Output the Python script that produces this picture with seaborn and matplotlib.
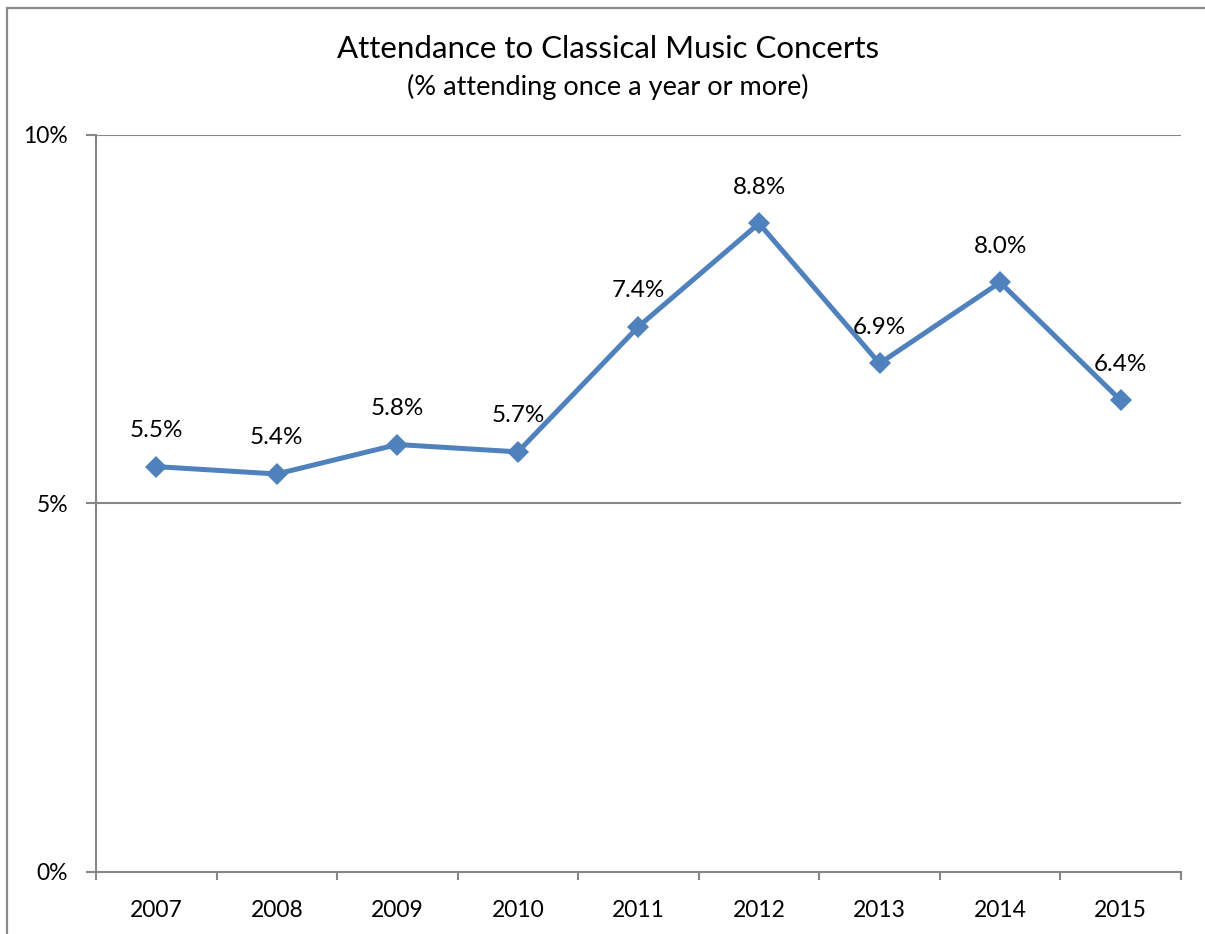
import matplotlib
matplotlib.use("Agg")
import matplotlib.pyplot as plt
import seaborn as sns
import numpy as np
import pandas as pd
from matplotlib.patches import Rectangle
from matplotlib.ticker import FixedLocator, NullFormatter

# Attendance data
years = ["2007", "2008", "2009", "2010", "2011", "2012", "2013", "2014", "2015"]
attendance = [5.5, 5.4, 5.8, 5.7, 7.4, 8.8, 6.9, 8.0, 6.4]
y_ticks = [0, 5, 10]
y_tick_labels = ["0%", "5%", "10%"]

title = "Attendance to Classical Music Concerts"
subtitle = "(% attending once a year or more)"

LINE_BLUE = "#4F81BD"
AXIS_GRAY = "#868686"

sns.set_theme(style="white")
plt.rcParams["font.family"] = ["Lato", "DejaVu Sans"]

fig = plt.figure(figsize=(12.05, 9.34), dpi=100)
ax = fig.add_axes([0.0797, 0.0664, 0.9003, 0.7891])

df = pd.DataFrame({"pos": np.arange(len(years)), "value": attendance})
sns.lineplot(data=df, x="pos", y="value", ax=ax, color=LINE_BLUE,
             linewidth=3.6, marker="D", markersize=11.5,
             markeredgecolor=LINE_BLUE, markeredgewidth=0)

for x, v in zip(df["pos"], df["value"]):
    ax.annotate(f"{v:.1f}%", (x, v), xytext=(0, 26), textcoords="offset points",
                ha="center", va="center", fontsize=17.5, color="black")

ax.set_xlim(-0.5, len(years) - 0.5)
ax.set_ylim(0, 10)

# x axis: labels at category centres, tick marks between categories
ax.set_xticks(np.arange(len(years)))
ax.set_xticklabels(years, fontsize=16.5, color="black")
ax.xaxis.set_minor_locator(FixedLocator(np.arange(-0.5, len(years), 1.0)))
ax.xaxis.set_minor_formatter(NullFormatter())
ax.tick_params(axis="x", which="major", length=0, pad=20)
ax.tick_params(axis="x", which="minor", length=6, width=1.5, color=AXIS_GRAY,
               direction="out", bottom=True)

ax.set_yticks(y_ticks)
ax.set_yticklabels(y_tick_labels, fontsize=16.5, color="black")
ax.tick_params(axis="y", which="major", length=7, width=1.5, color=AXIS_GRAY,
               direction="out", left=True, pad=13)

ax.set_xlabel("")
ax.set_ylabel("")

for yv in y_ticks[1:]:
    ax.axhline(yv, color=AXIS_GRAY, linewidth=1.5, zorder=0)

for side in ["top", "right"]:
    ax.spines[side].set_visible(False)
for side in ["left", "bottom"]:
    ax.spines[side].set_color(AXIS_GRAY)
    ax.spines[side].set_linewidth(1.5)

fig.text(0.5045, 0.948, title, ha="center", va="center", fontsize=22.5, color="black")
fig.text(0.5045, 0.907, subtitle, ha="center", va="center", fontsize=19.5, color="black")

# chart frame
fig.patches.append(Rectangle((7 / 1205, -0.05), 1.2, 1.05 - 8 / 934,
                             transform=fig.transFigure, fill=False,
                             edgecolor="#898989", linewidth=1.6))

fig.savefig("out.png", dpi=100)
